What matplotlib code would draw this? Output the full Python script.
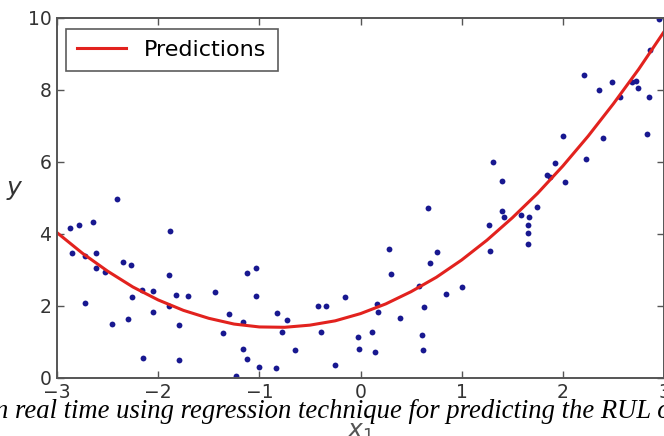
import numpy as np
from matplotlib import pyplot as plt
#
# scatter points
x_pts = [-2.87, -2.78, -2.64, -1.88, -2.85, -2.61, -2.72, -2.61, -2.53, -2.35,
         -2.27, -1.89, -2.16, -2.05, -2.26, -1.82, -1.71, -1.44, -2.72, -1.89,
         -2.05, -2.30, -2.46, -1.79, -2.15, -1.79, -2.41, -1.03, -1.12, -1.03,
         -0.15, -0.42, -0.34, -1.30, -0.83, -0.73, -1.16, -1.36, -0.78, -0.39,
         -0.02, -1.16, -0.65, -0.01, -1.12, -1.00, -0.84, -0.25, -1.23, 0.28,
         0.30, 0.76, 0.69, 0.58, 1.00, 0.85, 0.16, 0.17, 0.63, 0.39,
         0.11, 0.14, 0.61, 0.62, 1.27, 1.28, 1.40, 1.42, 1.59, 1.67,
         1.66, 1.66, 1.66, 1.31, 1.40, 0.67, 1.74, 1.84, 1.87, 1.92,
         2.02, 2.00, 2.23, 2.40, 2.21, 2.36, 2.49, 2.57, 2.68, 2.72,
         2.74, 2.85, 2.83, 2.86, 2.95]
y_pts = [4.17, 4.24, 4.32, 4.08, 3.47, 3.46, 3.39, 3.04, 2.94, 3.22,
         3.13, 2.85, 2.44, 2.41, 2.25, 2.30, 2.27, 2.37, 2.07, 1.99,
         1.83, 1.62, 1.50, 1.46, 0.54, 0.48, 4.96, 3.04, 2.90, 2.28,
         2.24, 1.98, 1.98, 1.76, 1.79, 1.60, 1.56, 1.23, 1.27, 1.26,
         1.13, 0.80, 0.76, 0.79, 0.52, 0.29, 0.26, 0.34, 0.05, 3.58,
         2.89, 3.48, 3.18, 2.54, 2.51, 2.33, 2.05, 1.83, 1.96, 1.67,
         1.26, 0.71, 1.20, 0.76, 4.25, 3.51, 4.63, 4.45, 4.52, 4.45,
         4.24, 4.03, 3.72, 5.98, 5.47, 4.72, 4.74, 5.64, 5.57, 5.97,
         5.44, 6.72, 6.08, 6.67, 8.41, 7.98, 8.22, 7.80, 8.22, 8.25,
         8.06, 7.79, 6.77, 9.11, 9.96]
#
# prediction curve
x_pred = [-3.0, -2.75, -2.5, -2.25, -2.0, -1.75, -1.5, -1.25, -1.0, -0.75, -0.5, -0.25,
          0.0, 0.25, 0.5, 0.75, 1.0, 1.25, 1.5, 1.75, 2.0, 2.25, 2.5, 2.75, 3.0]
y_pred = [4.03, 3.46, 2.96, 2.52, 2.16, 1.87, 1.65, 1.49, 1.41, 1.40, 1.46, 1.58,
          1.78, 2.05, 2.39, 2.79, 3.27, 3.82, 4.44, 5.12, 5.88, 6.71, 7.61, 8.57, 9.61]
#
x_ticks = [-3, -2, -1, 0, 1, 2, 3]
y_ticks = [0, 2, 4, 6, 8, 10]
caption = "n real time using regression technique for predicting the RUL of the"
#
fig = plt.figure(figsize=(6.64, 4.36), dpi=100)
ax = fig.add_axes([57/664, 58.3/436, 607/664, 360/436])
#
ax.plot(x_pts, y_pts, 'o', color='#181890', markersize=4.2, markeredgewidth=0)
ax.plot(x_pred, y_pred, '-', color='#e2221e', linewidth=2.2, label='Predictions')
#
ax.set_xlim(-3, 3)
ax.set_ylim(0, 10)
ax.set_xticks(x_ticks)
ax.set_yticks(y_ticks)
ax.set_xticklabels(['\u2212' + str(-t) if t < 0 else str(t) for t in x_ticks])
ax.tick_params(direction='in', top=True, right=True, length=5, width=1,
               color='#555555', labelsize=13.5, labelcolor='#333333', pad=4)
for s in ax.spines.values():
    s.set_color('#555555')
    s.set_linewidth(1.4)
#
ax.set_ylabel('$y$', fontsize=18, rotation=0, color='#333333', ha='center', va='center')
ax.yaxis.set_label_coords(-0.069, 0.52)
ax.set_xlabel('$x_1$', fontsize=18, color='#555555', va='top')
ax.xaxis.set_label_coords(0.5, -0.117)
#
leg = ax.legend(loc='upper left', fontsize=16, fancybox=False, handlelength=2.2,
                borderpad=0.5, bbox_to_anchor=(-0.003, 1.0))
leg.get_frame().set_edgecolor('#333333')
leg.get_frame().set_linewidth(1.2)
#
fig.text(-0.008, 0.041, caption, fontsize=19.2, style='italic',
         family='Liberation Serif', color='black', ha='left', va='baseline')
#
fig.savefig('out.png', dpi=100)
